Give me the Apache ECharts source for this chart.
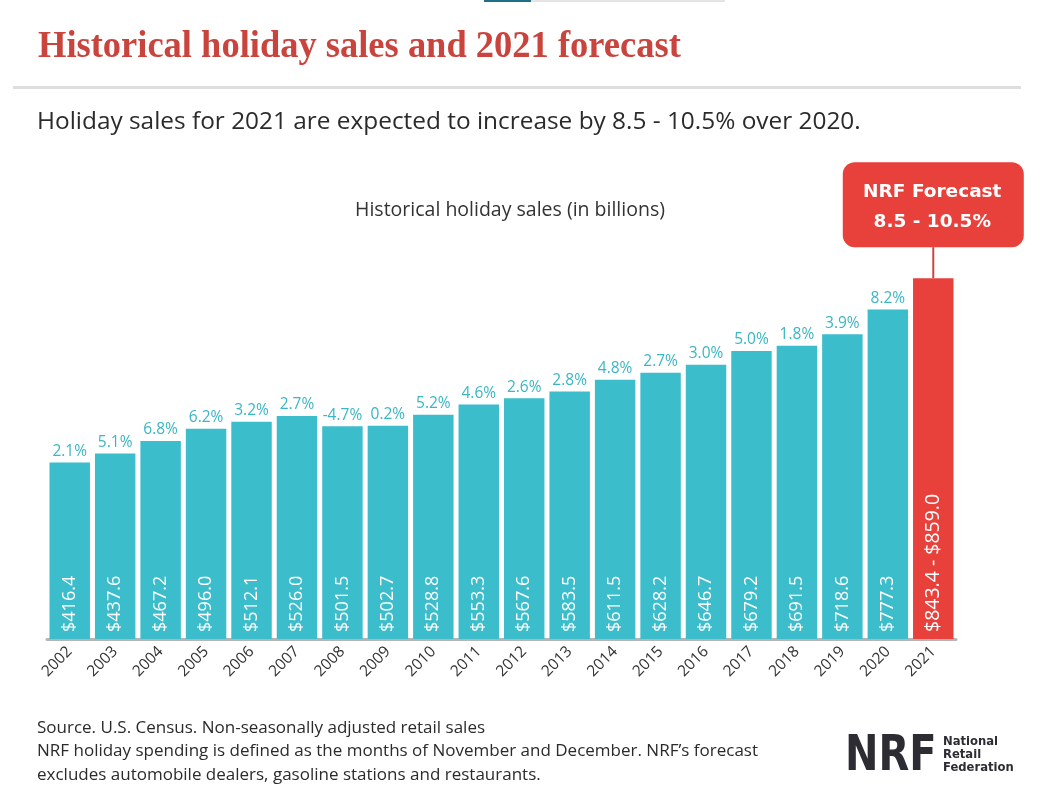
<!DOCTYPE html>
<html>
<head>
<meta charset="utf-8">
<script src="https://cdn.jsdelivr.net/npm/echarts@6/dist/echarts.min.js"></script>
<style>
html,body{margin:0;padding:0;background:#fff;}
#chart{width:1047px;height:810px;}
</style>
</head>
<body>
<div id="chart"></div>
<script>
const years = ['2002','2003','2004','2005','2006','2007','2008','2009','2010','2011','2012','2013','2014','2015','2016','2017','2018','2019','2020','2021'];
const sales = [416.4, 437.6, 467.2, 496.0, 512.1, 526.0, 501.5, 502.7, 528.8, 553.3, 567.6, 583.5, 611.5, 628.2, 646.7, 679.2, 691.5, 718.6, 777.3, 851.0];
const growth = ['2.1%','5.1%','6.8%','6.2%','3.2%','2.7%','-4.7%','0.2%','5.2%','4.6%','2.6%','2.8%','4.8%','2.7%','3.0%','5.0%','1.8%','3.9%','8.2%',''];
const forecastLow = 843.4;
const forecastHigh = 859.0;
const forecastRange = '8.5 - 10.5%';

const TEAL = '#3bbdcb';
const RED = '#e8403b';
const lastIdx = years.length - 1;

const chart = echarts.init(document.getElementById('chart'), null, {renderer: 'canvas'});

const barData = sales.map((v, i) => ({
  value: v,
  itemStyle: {color: i === lastIdx ? RED : TEAL},
  label: i === lastIdx ? {fontSize: 19.5} : undefined
}));

const option = {
  backgroundColor: '#fff',
  animation: false,
  grid: {left: 47, right: 91, top: 215, bottom: 171, containLabel: false},
  xAxis: {
    type: 'category',
    data: years,
    axisLine: {show: true, lineStyle: {color: '#b5b5b5', width: 3}},
    axisTick: {show: false},
    axisLabel: {
      rotate: 45, color: '#333', fontSize: 15.5, margin: 10,
      fontFamily: 'Open Sans'
    }
  },
  yAxis: {
    type: 'value', min: 0, max: 1000,
    show: false,
    splitLine: {show: false}
  },
  series: [
    {
      type: 'bar',
      data: barData,
      barCategoryGap: '11%',
      z: 2,
      label: {
        show: true,
        position: 'insideBottom',
        rotate: 90,
        align: 'left',
        verticalAlign: 'middle',
        distance: 7,
        color: '#fff',
        fontSize: 18,
        fontFamily: 'Open Sans',
        formatter: p => p.dataIndex === lastIdx
          ? '$' + forecastLow.toFixed(1) + ' - $' + forecastHigh.toFixed(1)
          : '$' + p.value.toFixed(1)
      }
    },
    {
      type: 'bar',
      data: sales,
      barGap: '-100%',
      barCategoryGap: '11%',
      z: 3,
      silent: true,
      itemStyle: {color: 'rgba(0,0,0,0)'},
      label: {
        show: true,
        position: 'top',
        distance: 3,
        color: '#3ab6c5',
        fontSize: 15.5,
        fontFamily: 'Open Sans',
        formatter: p => growth[p.dataIndex]
      }
    }
  ]
};
chart.setOption(option);

const fcTop = chart.convertToPixel({gridIndex: 0}, [lastIdx, sales[lastIdx]]);
const cx = fcTop[0], cy = fcTop[1];
const boxW = 181, boxH = 85, boxTop = cy - 116;

chart.setOption({
  graphic: [
    {type: 'rect', shape: {x: 484, y: 0, width: 47, height: 2}, style: {fill: '#1f6f86'}},
    {type: 'rect', shape: {x: 531, y: 0, width: 194, height: 2}, style: {fill: '#e4e4e4'}},
    {type: 'text', left: 38, top: 28, scaleX: 0.96, originX: 0,
      style: {text: 'Historical holiday sales and 2021 forecast', fill: '#c9443d',
        font: 'bold 38px "Liberation Serif"'}},
    {type: 'rect', shape: {x: 13, y: 86, width: 1008, height: 3}, style: {fill: '#dedede'}},
    {type: 'text', x: 37, y: 122,
      style: {text: 'Holiday sales for 2021 are expected to increase by 8.5 - 10.5% over 2020.', fill: '#2b2b2b',
        font: '24.4px "Open Sans"', textVerticalAlign: 'middle'}},
    {type: 'text', x: 510, y: 210,
      style: {text: 'Historical holiday sales (in billions)', fill: '#333', font: '19.5px "Open Sans"',
        textAlign: 'center', textVerticalAlign: 'middle'}},
    {type: 'line', shape: {x1: cx, y1: boxTop + boxH, x2: cx, y2: cy}, style: {stroke: '#c8453f', lineWidth: 2}},
    {type: 'rect', shape: {x: cx - boxW / 2, y: boxTop, width: boxW, height: boxH, r: 12}, style: {fill: RED}},
    {type: 'text', x: cx - 1, y: boxTop + 30,
      style: {text: 'NRF Forecast', fill: '#fff', font: 'bold 18.5px "DejaVu Sans"', textAlign: 'center', textVerticalAlign: 'middle'}},
    {type: 'text', x: cx - 1, y: boxTop + 60,
      style: {text: forecastRange, fill: '#fff', font: 'bold 18.5px "DejaVu Sans"', textAlign: 'center', textVerticalAlign: 'middle'}},
    {type: 'text', x: 37, y: 728,
      style: {text: 'Source. U.S. Census. Non-seasonally adjusted retail sales', fill: '#2b2b2b', font: '17px "Open Sans"', textVerticalAlign: 'middle'}},
    {type: 'text', x: 37, y: 751.5,
      style: {text: 'NRF holiday spending is defined as the months of November and December. NRF\u2019s forecast', fill: '#2b2b2b', font: '17px "Open Sans"', textVerticalAlign: 'middle'}},
    {type: 'text', x: 37, y: 775,
      style: {text: 'excludes automobile dealers, gasoline stations and restaurants.', fill: '#2b2b2b', font: '17px "Open Sans"', textVerticalAlign: 'middle'}},
    {type: 'text', left: 845, top: 732, scaleX: 0.8, originX: 0,
      style: {text: 'NRF', fill: '#2d2c33', font: 'bold 50px "DejaVu Sans"'}},
    {type: 'text', left: 943, top: 735,
      style: {text: 'National\nRetail\nFederation', fill: '#2d2c33', font: 'bold 11.6px "DejaVu Sans"', lineHeight: 13}}
  ]
});
</script>
</body>
</html>
